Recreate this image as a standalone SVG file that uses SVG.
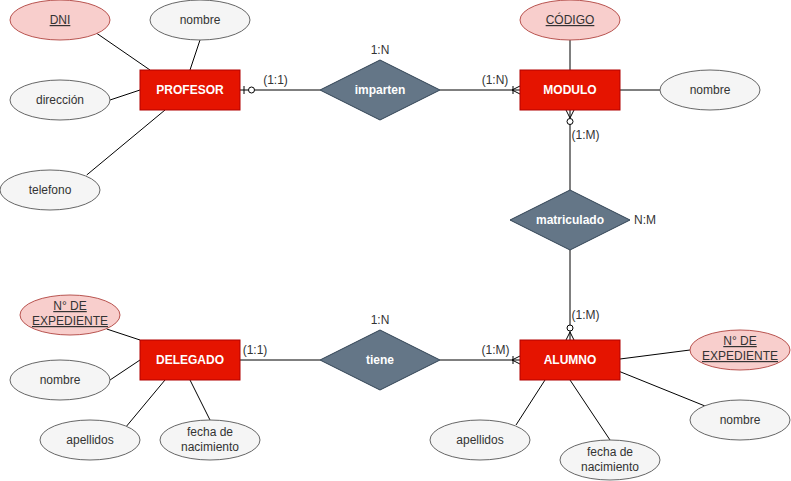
<svg xmlns="http://www.w3.org/2000/svg" width="791" height="481" viewBox="0 0 791 481">
<style>
text{font-family:"Liberation Sans",Arial,sans-serif;font-size:12px;text-anchor:middle}
.ent rect{fill:#e51400;stroke:#b20000;stroke-width:1}
.ent text{fill:#ffffff;font-weight:bold}
.rel polygon{fill:#647687;stroke:#314354;stroke-width:1}
.rel text{fill:#ffffff;font-weight:bold}
.att ellipse{fill:#f5f5f5;stroke:#666666;stroke-width:1}
.att text{fill:#333333}
.key ellipse{fill:#f8cecc;stroke:#b85450;stroke-width:1}
.key text{fill:#333333;text-decoration:underline}
.lbl{fill:#333333}
.edges line,.edges path{stroke:#000000;stroke-width:1;fill:none}
.edges circle{fill:#ffffff;stroke:#000000;stroke-width:1}
</style>
<rect width="791" height="481" fill="#ffffff"/>
<g class="edges" id="connectors">
<!-- PROFESOR attributes -->
<line x1="96.7" y1="33.3" x2="150" y2="70"/>
<line x1="200" y1="40" x2="190" y2="70"/>
<line x1="110" y1="100" x2="140" y2="90"/>
<line x1="86.7" y1="175" x2="165" y2="110"/>
<!-- MODULO attributes -->
<line x1="570" y1="40" x2="570" y2="70"/>
<line x1="620" y1="90" x2="660" y2="90"/>
<!-- DELEGADO attributes -->
<line x1="106.7" y1="329" x2="140" y2="340"/>
<line x1="110" y1="380" x2="140" y2="360"/>
<line x1="126.7" y1="426" x2="165" y2="380"/>
<line x1="210" y1="420" x2="190" y2="380"/>
<!-- ALUMNO attributes -->
<line x1="620" y1="359" x2="690" y2="350"/>
<line x1="620" y1="371.7" x2="705" y2="406"/>
<line x1="516" y1="425" x2="545" y2="380"/>
<line x1="610" y1="440" x2="570" y2="380"/>
<!-- PROFESOR - imparten (zero-to-one at PROFESOR) -->
<line x1="240" y1="90" x2="248.5" y2="90"/>
<line x1="254.5" y1="90" x2="320" y2="90"/>
<line x1="244" y1="86" x2="244" y2="94"/>
<circle cx="251.5" cy="90" r="3"/>
<!-- imparten - MODULO (one-to-many at MODULO) -->
<line x1="440" y1="90" x2="520" y2="90"/>
<path d="M520 86 L512 90 L520 94"/>
<line x1="513" y1="86" x2="513" y2="94"/>
<!-- MODULO - matriculado (zero-to-many at MODULO) -->
<line x1="570" y1="110" x2="570" y2="118.5"/>
<path d="M566 110 L570 118 L574 110"/>
<circle cx="570" cy="121.5" r="3"/>
<line x1="570" y1="124.5" x2="570" y2="190"/>
<!-- matriculado - ALUMNO (zero-to-many at ALUMNO) -->
<line x1="570" y1="250" x2="570" y2="325"/>
<circle cx="570" cy="328" r="3"/>
<line x1="570" y1="331" x2="570" y2="340"/>
<path d="M566 340 L570 332 L574 340"/>
<!-- DELEGADO - tiene -->
<line x1="240" y1="360" x2="320" y2="360"/>
<!-- tiene - ALUMNO (one-to-many at ALUMNO) -->
<line x1="440" y1="360" x2="520" y2="360"/>
<path d="M520 356 L512 360 L520 364"/>
<line x1="513" y1="356" x2="513" y2="364"/>
<!-- edge labels -->
<text class="lbl" x="275.5" y="84">(1:1)</text>
<text class="lbl" x="495" y="84">(1:N)</text>
<text class="lbl" x="585.5" y="139">(1:M)</text>
<text class="lbl" x="585.5" y="319">(1:M)</text>
<text class="lbl" x="255" y="354">(1:1)</text>
<text class="lbl" x="495.5" y="354">(1:M)</text>
</g>
<g class="ent" id="profesor"><rect x="140" y="70" width="100" height="40"/><text x="190" y="94">PROFESOR</text></g>
<g class="ent" id="modulo"><rect x="520" y="70" width="100" height="40"/><text x="570" y="94">MODULO</text></g>
<g class="ent" id="delegado"><rect x="140" y="340" width="100" height="40"/><text x="190" y="364">DELEGADO</text></g>
<g class="ent" id="alumno"><rect x="520" y="340" width="100" height="40"/><text x="570" y="364">ALUMNO</text></g>
<g class="rel" id="imparten"><polygon points="320,90 380,60 440,90 380,120"/><text x="380" y="94">imparten</text><text class="lbl" x="380" y="54" style="font-weight:normal;fill:#333333">1:N</text></g>
<g class="rel" id="matriculado"><polygon points="510,220 570,190 630,220 570,250"/><text x="570" y="224">matriculado</text><text x="634" y="224" style="font-weight:normal;fill:#333333;text-anchor:start">N:M</text></g>
<g class="rel" id="tiene"><polygon points="320,360 380,330 440,360 380,390"/><text x="380" y="364">tiene</text><text x="380" y="324" style="font-weight:normal;fill:#333333">1:N</text></g>
<g class="key" id="dni"><ellipse cx="60" cy="20" rx="50" ry="20"/><text x="60" y="24">DNI</text></g>
<g class="att" id="prof-nombre"><ellipse cx="200" cy="20" rx="50" ry="20"/><text x="200" y="24">nombre</text></g>
<g class="att" id="prof-direccion"><ellipse cx="60" cy="100" rx="50" ry="20"/><text x="60" y="104">dirección</text></g>
<g class="att" id="prof-telefono"><ellipse cx="50" cy="190" rx="50" ry="20"/><text x="50" y="194">telefono</text></g>
<g class="key" id="codigo"><ellipse cx="570" cy="20" rx="50" ry="20"/><text x="570" y="24">CÓDIGO</text></g>
<g class="att" id="mod-nombre"><ellipse cx="710" cy="90" rx="50" ry="20"/><text x="710" y="94">nombre</text></g>
<g class="key" id="del-expediente"><ellipse cx="70" cy="315" rx="50" ry="20"/><text x="70" y="310">N° DE</text><text x="70" y="325">EXPEDIENTE</text></g>
<g class="att" id="del-nombre"><ellipse cx="60" cy="380" rx="50" ry="20"/><text x="60" y="384">nombre</text></g>
<g class="att" id="del-apellidos"><ellipse cx="90" cy="440" rx="50" ry="20"/><text x="90" y="444">apellidos</text></g>
<g class="att" id="del-fecha"><ellipse cx="210" cy="440" rx="50" ry="20"/><text x="210" y="436">fecha de</text><text x="210" y="451">nacimiento</text></g>
<g class="key" id="alu-expediente"><ellipse cx="740" cy="350" rx="50" ry="20"/><text x="740" y="345">N° DE</text><text x="740" y="360">EXPEDIENTE</text></g>
<g class="att" id="alu-nombre"><ellipse cx="740" cy="420" rx="50" ry="20"/><text x="740" y="424">nombre</text></g>
<g class="att" id="alu-apellidos"><ellipse cx="480" cy="440" rx="50" ry="20"/><text x="480" y="444">apellidos</text></g>
<g class="att" id="alu-fecha"><ellipse cx="610" cy="460" rx="50" ry="20"/><text x="610" y="456">fecha de</text><text x="610" y="471">nacimiento</text></g>
</svg>
